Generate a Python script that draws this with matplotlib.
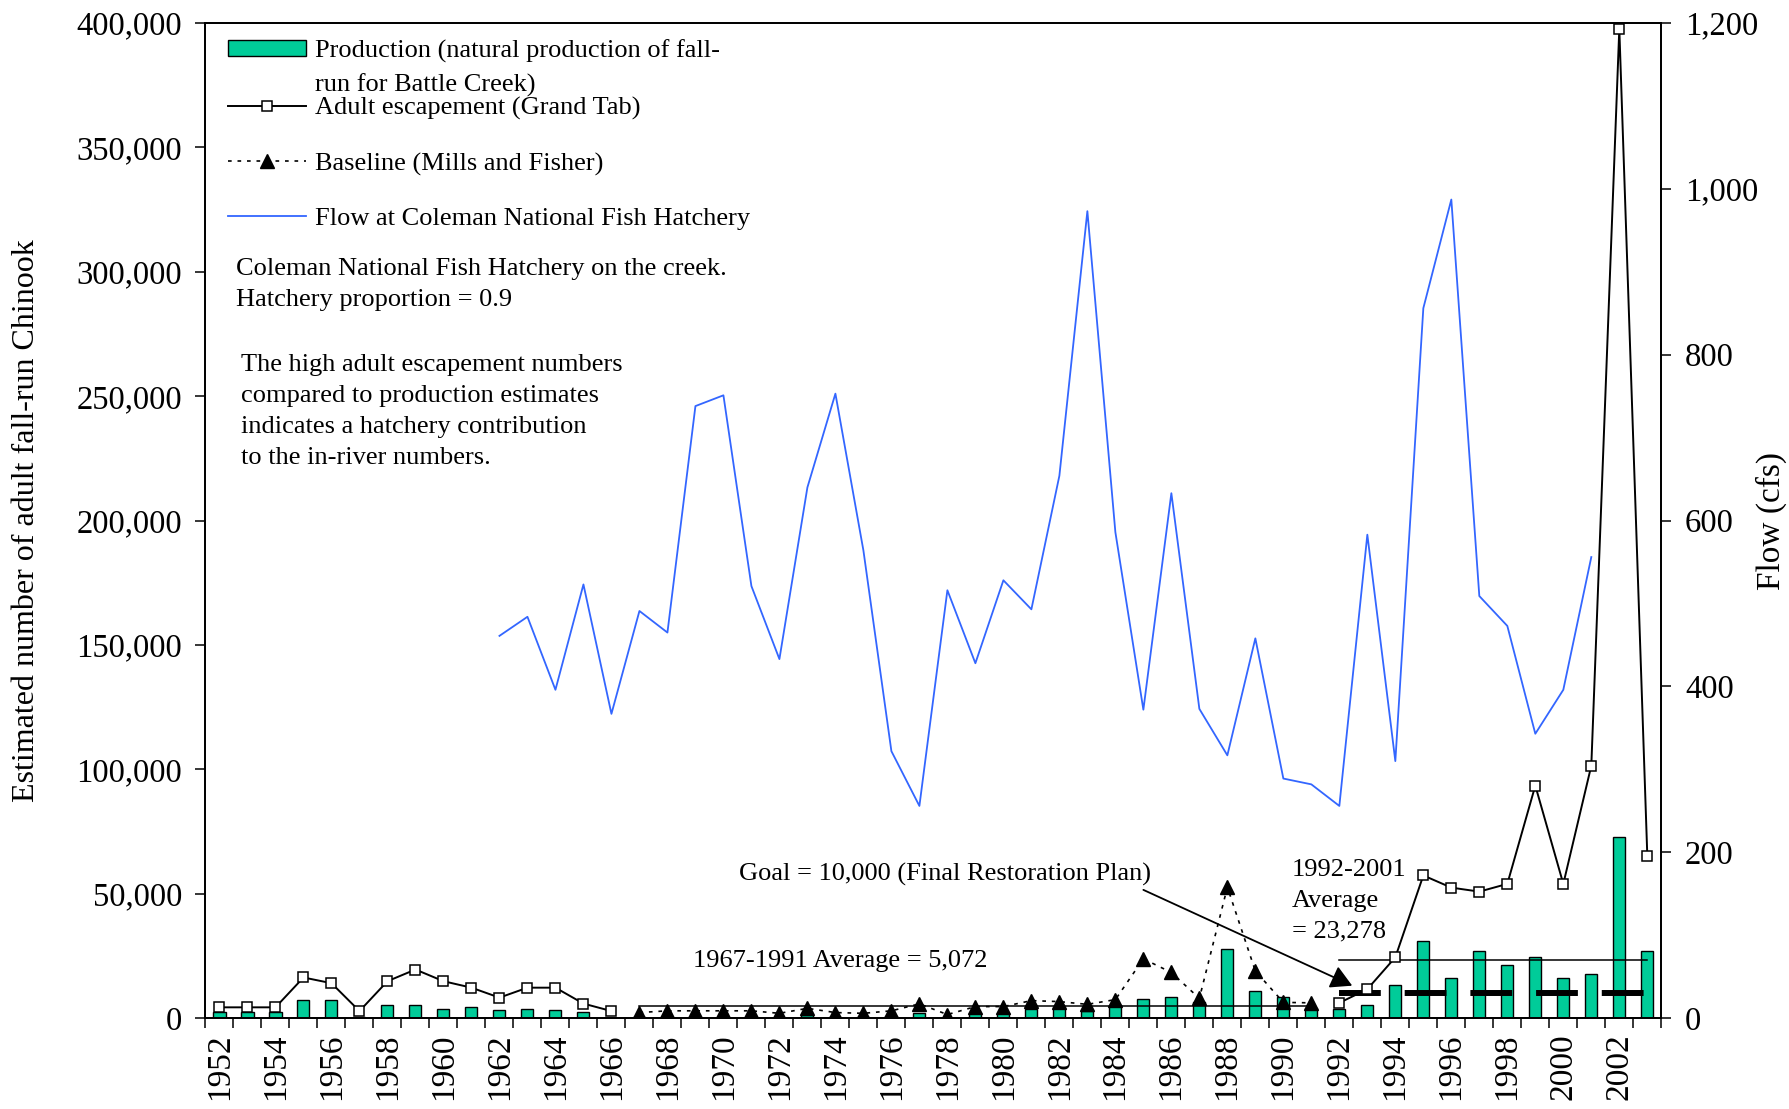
import numpy as np
import matplotlib.pyplot as plt
from matplotlib.ticker import FuncFormatter

plt.rcParams['font.family'] = ['Liberation Serif', 'DejaVu Serif']

nan = np.nan
years = np.arange(1952, 2004)

# natural production (fish)
production = [2400, 2400, 2400, 7200, 7200, 600, 5500, 5500, 3900, 4700,
              3200, 3900, 3200, 2400, 300,
              500, 300, 300, 500, 300, 300, 1200, 500, 500, 800,
              2000, 300, 2000, 2000, 3600, 4400, 3000,
              5400, 7800, 8700, 6700, 27900, 11100, 8700, 4000,
              3800, 5400, 13500, 31100, 16000, 27100, 21600, 24800, 16000, 17600,
              72800, 27100]

# adult escapement (Grand Tab)
escapement = [4400, 4400, 4400, 16400, 14100, 2900, 14900, 19600, 14900, 12300,
              8300, 12300, 12300, 5900, 2900] + [nan] * 25 + \
             [6200, 11700, 24500, 57400, 52500, 50900, 54000, 93500, 54000, 101500,
              397600, 65400]

# baseline (Mills and Fisher)
baseline = [nan] * 15 + \
           [2300, 3000, 3000, 3000, 3000, 2000, 4000, 2300, 2000, 3000,
            5800, 1500, 4700, 4700, 7100, 6700, 5600, 7500, 23900, 18400,
            8000, 52700, 19000, 6400, 6200] + [nan] * 12

# flow at Coleman National Fish Hatchery (cfs)
flow = [nan] * 10 + \
       [461, 484, 396, 523, 367, 491, 465, 738, 751, 521,
        433, 640, 753, 564, 322, 256, 516, 428, 528, 493,
        654, 973, 586, 372, 633, 373, 317, 458, 289, 282,
        256, 583, 310, 856, 987, 509, 473, 343, 396, 556] + [nan] * 2

avg_early = 5072   # 1967-1991
avg_late = 23278   # 1992-2001
goal = 10000

fig = plt.figure(figsize=(17.9, 11.09), dpi=100)
ax = fig.add_axes([0.1148, 0.0818, 0.8133, 0.8976])

bars = ax.bar(years, production, width=0.43, color='#00CC99', edgecolor='black',
              linewidth=1.0, zorder=2)
l_esc, = ax.plot(years, escapement, color='black', lw=1.4, marker='s', markersize=7,
                 markerfacecolor='white', markeredgecolor='black', markeredgewidth=1.1,
                 zorder=5)
l_base, = ax.plot(years, baseline, color='black', lw=1.2, linestyle=(0, (2.2, 3.5)),
                  marker='^', markersize=9.5, markerfacecolor='black', zorder=4)

# averages and goal
ax.plot([1967, 1991], [avg_early, avg_early], color='black', lw=1.1, zorder=3)
ax.plot([1992, 2003], [avg_late, avg_late], color='black', lw=1.1, zorder=3)
ax.plot([1992, 2003], [goal, goal], color='black', lw=4.3, dashes=(7.0, 4.0),
        solid_capstyle='butt', dash_capstyle='butt', zorder=4)

ax.set_xlim(1951.5, 2003.5)
ax.set_ylim(0, 400000)
ax.set_yticks(np.arange(0, 400001, 50000))
ax.yaxis.set_major_formatter(FuncFormatter(lambda v, p: f'{v:,.0f}'))
ax.set_xticks(years[::2])
ax.set_xticklabels([str(y) for y in years[::2]], rotation=90)
ax.set_xticks(np.arange(1951.5, 2004, 1), minor=True)
ax.tick_params(axis='x', which='major', length=0, pad=11, labelsize=24)
ax.tick_params(axis='x', which='minor', length=7, width=1.1, direction='out')
ax.tick_params(axis='y', length=7, width=1.1, direction='out', pad=10, labelsize=23.5)
ax.set_ylabel('Estimated number of adult fall-run Chinook', fontsize=23)
ax.yaxis.set_label_coords(-0.113, 0.5)

ax2 = ax.twinx()
l_flow, = ax2.plot(years, flow, color='#3366FF', lw=1.3)
ax2.set_ylim(0, 1200)
ax2.set_yticks(np.arange(0, 1201, 200))
ax2.yaxis.set_major_formatter(FuncFormatter(lambda v, p: f'{v:,.0f}'))
ax2.tick_params(axis='y', length=7, width=1.1, direction='out', pad=10, labelsize=23.5)
ax2.set_ylabel('Flow (cfs)', fontsize=24)
ax2.yaxis.set_label_coords(1.065, 0.5)

for a in (ax, ax2):
    for s in a.spines.values():
        s.set_linewidth(1.3)

# annotations
ax.text(0.021, 0.764, 'Coleman National Fish Hatchery on the creek.\nHatchery proportion = 0.9',
        transform=ax.transAxes, fontsize=19, va='top', ha='left', linespacing=1.52)
ax.text(0.0246, 0.667, 'The high adult escapement numbers\ncompared to production estimates\n'
        'indicates a hatchery contribution\nto the in-river numbers.',
        transform=ax.transAxes, fontsize=19, va='top', ha='left', linespacing=1.52)
ax.text(1974.16, 23000, '1967-1991 Average = 5,072', fontsize=19, ha='center', va='center')
ax.text(1977.9, 57600, 'Goal = 10,000 (Final Restoration Plan)', fontsize=19,
        ha='center', va='center')
ax.text(1990.3, 47300, '1992-2001\nAverage\n= 23,278', fontsize=19, ha='left', va='center',
        linespacing=1.52)
ax.annotate('', xy=(1992.46, 13100), xytext=(1985.0, 51600),
            arrowprops=dict(arrowstyle='-|>,head_length=0.65,head_width=0.36',
                            mutation_scale=20, lw=1.3, color='black',
                            shrinkA=0, shrinkB=0), zorder=6)

# legend
legA = ax2.legend([bars], ['Production (natural production of fall-'], loc='upper left',
                  bbox_to_anchor=(0.1276, 0.9645), bbox_transform=fig.transFigure,
                  frameon=False, fontsize=19, handlelength=2.95, handletextpad=0.34,
                  handleheight=0.55, borderpad=0, borderaxespad=0)
ax2.add_artist(legA)
fig.text(0.176, 0.9235, 'run for Battle Creek)', fontsize=19, va='center', ha='left')
ax2.legend([l_esc, l_base, l_flow],
           ['Adult escapement (Grand Tab)', 'Baseline (Mills and Fisher)',
            'Flow at Coleman National Fish Hatchery'],
           loc='upper left', bbox_to_anchor=(0.1276, 0.9131), bbox_transform=fig.transFigure,
           frameon=False, fontsize=19, handlelength=2.95, handletextpad=0.34,
           labelspacing=1.19, numpoints=1, borderpad=0, borderaxespad=0)

fig.savefig('out.png', dpi=100)
